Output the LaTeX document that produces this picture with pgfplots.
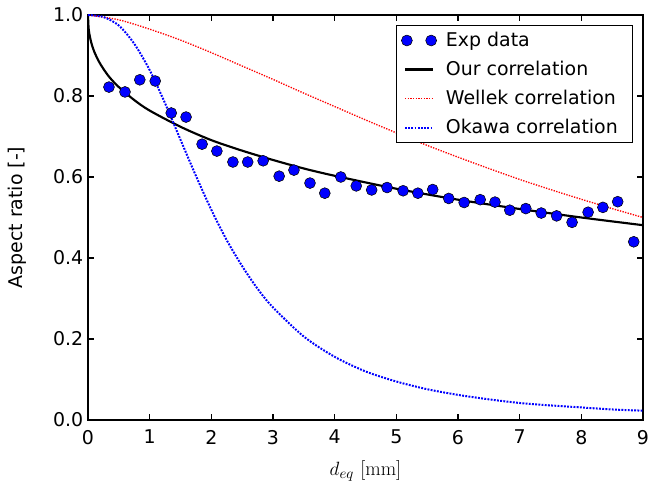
\documentclass[border=0pt]{standalone}
\usepackage{fontspec}
\setmainfont{DejaVu Sans}
\newfontfamily\lmr{Latin Modern Roman}
\usepackage{pgfplots}
\pgfplotsset{compat=1.18}

\pgfplotstableread{
x y
0.34 0.822
0.60 0.810
0.84 0.840
1.09 0.837
1.35 0.758
1.59 0.748
1.85 0.681
2.09 0.664
2.35 0.637
2.59 0.637
2.84 0.640
3.10 0.602
3.34 0.617
3.60 0.585
3.84 0.560
4.10 0.600
4.35 0.578
4.60 0.568
4.85 0.574
5.11 0.566
5.35 0.560
5.59 0.569
5.85 0.547
6.10 0.537
6.36 0.544
6.60 0.538
6.84 0.518
7.10 0.522
7.35 0.511
7.60 0.504
7.85 0.488
8.11 0.513
8.35 0.525
8.59 0.539
8.85 0.440
}\expdata

\begin{document}
\begin{tikzpicture}
\begin{axis}[
  scale only axis,
  width=416.25pt, height=303.75pt,
  xmin=0, xmax=9, ymin=0, ymax=1,
  xtick={0,1,...,9},
  ytick={0,0.2,0.4,0.6,0.8,1.0},
  yticklabel style={/pgf/number format/.cd, fixed, fixed zerofill, precision=1},
  /pgf/number format/assume math mode=true,
  tick align=inside,
  major tick length=4.5pt,
  tick style={black, line width=0.8pt},
  axis line style={line width=1pt},
  font=\fontsize{14.2}{17}\selectfont,
  tick label style={font=\fontsize{14.2}{17}\selectfont},
  xticklabel style={inner xsep=0pt, yshift=-4pt},
  xlabel={$d_{eq}$ {\lmr [mm]}},
  ylabel={Aspect ratio [-]},
  xlabel style={at={(axis description cs:0.5,0)}, anchor=center, yshift=-38pt,
    font=\fontsize{15}{18}\selectfont},
  ylabel style={at={(axis description cs:0,0.5)}, anchor=center, yshift=53pt},
  legend style={at={(0.982,0.975)}, anchor=north east, draw=black,
    line width=0.8pt, row sep=5.5pt, inner xsep=4pt, inner ysep=3pt,
    font=\fontsize{14.2}{17}\selectfont,
    nodes={inner xsep=7pt}},
  legend cell align=left,
  legend image code/.code={\draw[#1] (0pt,0pt) -- (21pt,0pt);},
]
\addplot[only marks, mark=*, mark size=4.1pt,
  mark options={fill=blue, draw=black, line width=0.4pt},
  legend image code/.code={\draw[mark repeat=1] plot coordinates {(1.4pt,0pt) (19.6pt,0pt)};}]
  table {\expdata};
\addlegendentry{Exp data}

\addplot[black, line width=1.6pt, smooth] coordinates {
(0,1.000)(0.01,0.967)(0.03,0.947)(0.06,0.928)(0.10,0.910)(0.17,0.887)
(0.25,0.867)(0.35,0.846)(0.50,0.822)(0.75,0.790)(1.00,0.764)(1.50,0.724)
(2.00,0.691)(2.50,0.665)(3.00,0.642)(3.50,0.621)(4.00,0.603)(5.00,0.571)
(6.00,0.544)(7.00,0.521)(8.00,0.500)(9.00,0.481)
};
\addlegendentry{Our correlation}

\addplot[red, line width=1pt, dash pattern=on 1pt off 1pt, smooth] coordinates {
(0,1.000)(0.5,0.988)(1.0,0.965)(1.5,0.938)(2.0,0.907)(2.5,0.874)(3.0,0.841)
(3.5,0.807)(4.0,0.774)(4.5,0.741)(5.0,0.709)(5.5,0.678)(6.0,0.649)(6.5,0.621)
(7.0,0.594)(7.5,0.569)(8.0,0.545)(8.5,0.522)(9.0,0.500)
};
\addlegendentry{Wellek correlation}

\addplot[blue, line width=1.5pt, dash pattern=on 1.4pt off 1pt, smooth] coordinates {
(0,1.000)(0.25,0.995)(0.5,0.974)(0.75,0.929)(1.0,0.864)(1.25,0.782)(1.5,0.692)
(1.75,0.603)(2.0,0.519)(2.25,0.444)(2.5,0.380)(2.75,0.324)(3.0,0.278)(3.5,0.206)
(4.0,0.156)(4.5,0.120)(5.0,0.095)(5.5,0.076)(6.0,0.062)(6.5,0.051)(7.0,0.042)
(7.5,0.036)(8.0,0.031)(8.5,0.026)(9.0,0.023)
};
\addlegendentry{Okawa correlation}
\end{axis}
\path (current axis.south west) ++(-66pt,-51pt) coordinate (bl);
\path (current axis.north east) ++(4.5pt,11.25pt) coordinate (tr);
\path (bl) rectangle (tr);
\end{tikzpicture}
\end{document}
